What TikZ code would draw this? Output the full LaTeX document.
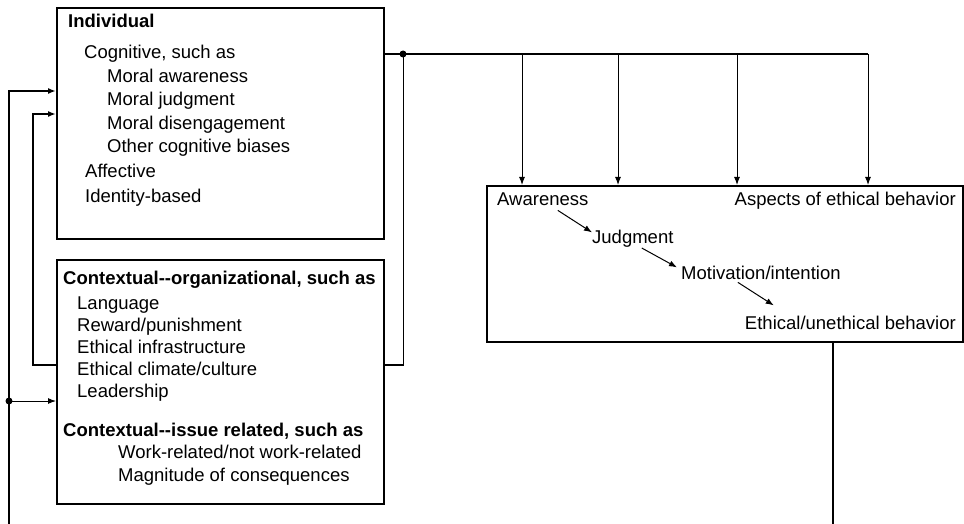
\documentclass[tikz,border=0pt]{standalone}
\usepackage{fontspec}
\setmainfont{Liberation Sans}
\usetikzlibrary{arrows.meta}
\tikzset{
	box/.style={draw, line width=2pt, inner sep=0pt, anchor=north west},
	txt/.style={inner sep=0pt, anchor=base west, font=\fontsize{18.5}{22}\selectfont},
	txtr/.style={txt, anchor=base east},
	conn/.style={line width=1.6pt},
	feed/.style={line width=1pt},
	arr/.style={-{Latex[length=8pt,width=6pt]}},
	blob/.style={circle, fill, inner sep=0pt, minimum size=7pt},
}
\begin{document}
\begin{tikzpicture}[x=1pt,y=-1pt]
	\useasboundingbox (0,0) rectangle (964,524);
	\node[box, minimum width=327pt, minimum height=231pt] (ind) at (56,7) {};
	\node[box, minimum width=327pt, minimum height=244pt] (ctx) at (56,259) {};
	\node[box, minimum width=476pt, minimum height=156pt] (out) at (486,185) {};
	\node[txt] (tind) at (68,28) {\bfseries Individual};
	\node[txt] (tcog) at (84,59) {Cognitive, such as};
	\node[txt] (tmaw) at (107,83) {Moral awareness};
	\node[txt] (tmju) at (107,106) {Moral judgment};
	\node[txt] (tmdi) at (107,130) {Moral disengagement};
	\node[txt] (tbia) at (107,153) {Other cognitive biases};
	\node[txt] (taff) at (85,178) {Affective};
	\node[txt] (tide) at (85,202) {Identity-based};
	\node[txt] (torg) at (63,284) {\bfseries Contextual-{}-organizational, such as};
	\node[txt] (tlan) at (77,309) {Language};
	\node[txt] (trew) at (77,331) {Reward/punishment};
	\node[txt] (tinf) at (77,353) {Ethical infrastructure};
	\node[txt] (tcli) at (77,375) {Ethical climate/culture};
	\node[txt] (tlea) at (77,397) {Leadership};
	\node[txt] (tiss) at (63,436) {\bfseries Contextual-{}-issue related, such as};
	\node[txt] (twor) at (118,458) {Work-related/not work-related};
	\node[txt] (tmag) at (118,481) {Magnitude of consequences};
	\node[txt] (aw) at (497,205) {Awareness};
	\node[txtr] (asp) at (956,205) {Aspects of ethical behavior};
	\node[txt] (jd) at (592,243) {Judgment};
	\node[txt] (mo) at (681,279) {Motivation/intention};
	\node[txtr] (eth) at (956,329) {Ethical/unethical behavior};
	\draw[feed, arr] ([xshift=15pt,yshift=-5pt]aw.south) -- ([yshift=-3pt]jd.north west);
	\draw[feed, arr] ([xshift=9pt,yshift=-1pt]jd.south) -- ([xshift=-4pt,yshift=-2pt]mo.north west);
	\draw[feed, arr] ([xshift=-23pt,yshift=-3pt]mo.south) -- ([xshift=29pt,yshift=10pt]eth.north west);
	\coordinate (jn) at (403,54);
	\coordinate (tr) at (868,54);
	\coordinate (lp) at (9,401);
	\draw[conn] (ind.east |- jn) -- (tr);
	\foreach \x in {522,618,737,868}
		\draw[feed, arr] (\x,0 |- jn) -- (\x,0 |- out.north);
	\draw[feed] (ctx.east |- 0,365) -| (jn);
	\draw[conn] (ctx.east |- 0,365) -- (403,365);
	\node[blob] (dj) at (jn) {};
	\draw[conn, arr] (ctx.west |- 0,365) -| (33,114) -- (ind.west |- 0,114);
	\draw[conn, arr] (out.south -| 833,0) |- (9,545) |- (ind.west |- 0,91);
	\draw[feed, arr] (lp) -- (ctx.west |- lp);
	\node[blob] (dl) at (lp) {};
\end{tikzpicture}
\end{document}
